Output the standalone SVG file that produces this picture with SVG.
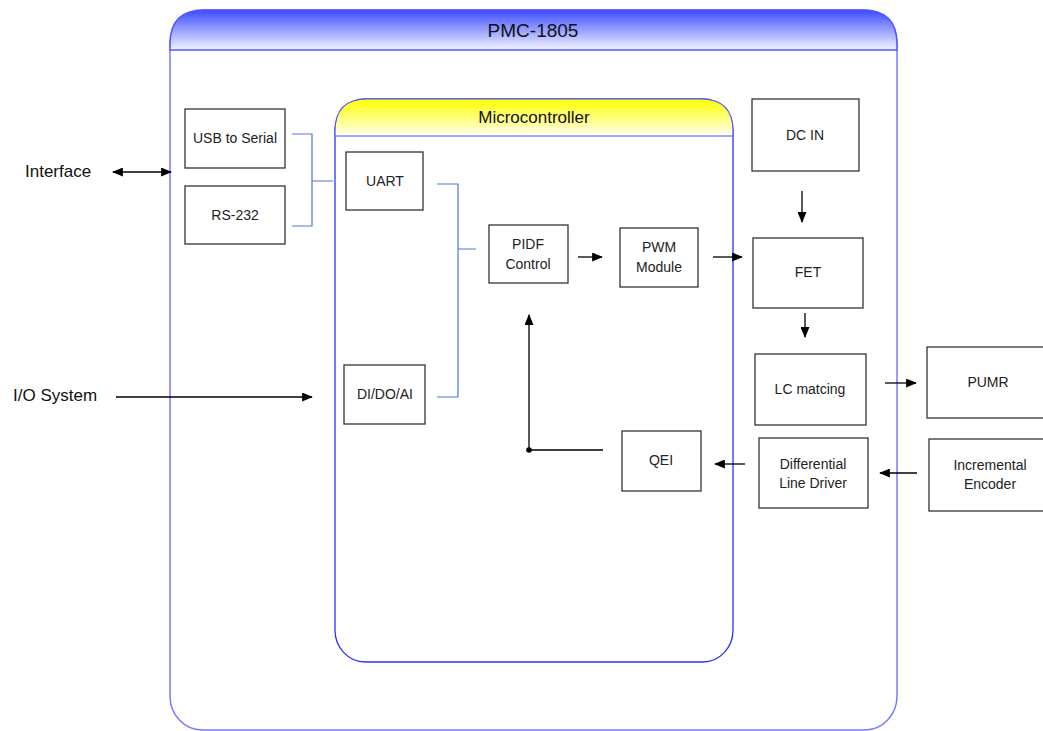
<svg xmlns="http://www.w3.org/2000/svg" width="1043" height="731" viewBox="0 0 1043 731">
<style>
.box{fill:#fff;stroke:#333;stroke-width:1.3}
.t{font-family:"Liberation Sans",Arial,sans-serif;font-size:14px;fill:#222;text-anchor:middle}
.lbl{font-family:"Liberation Sans",Arial,sans-serif;font-size:17px;fill:#111}
.ar{stroke:#000;stroke-width:1.3;fill:none}
.bl{stroke:#4a78d0;stroke-width:1.2;fill:none}
</style>
<defs>
<linearGradient id="gBlue" x1="0" y1="0" x2="0" y2="1">
<stop offset="0" stop-color="#3c4cff"/>
<stop offset="1" stop-color="#f2f4ff"/>
</linearGradient>
<linearGradient id="gYel" x1="0" y1="0" x2="0" y2="1">
<stop offset="0" stop-color="#ffff00"/>
<stop offset="1" stop-color="#fffff2"/>
</linearGradient>
<marker id="ah" viewBox="0 0 12 10" refX="11" refY="5" markerWidth="12" markerHeight="9" markerUnits="userSpaceOnUse" orient="auto-start-reverse">
<path d="M0,0 L12,5 L0,10 z" fill="#000"/>
</marker>
</defs>

<g id="pmc">
<rect x="170" y="10" width="727" height="720" rx="32" ry="34" fill="#fff" stroke="#7878ff" stroke-width="1.5"/>
<path d="M170,50 L170,44 Q170,10 204,10 L863,10 Q897,10 897,44 L897,50 Z" fill="url(#gBlue)" stroke="#5555ff" stroke-width="1.5"/>
<text x="533" y="37" class="lbl" style="font-size:19px" text-anchor="middle">PMC-1805</text>
</g>

<g id="microcontroller">
<rect x="335" y="99" width="398" height="563" rx="30" ry="32" fill="#fff" stroke="#3030ff" stroke-width="1.3"/>
<path d="M335,136 L335,131 Q335,99 367,99 L701,99 Q733,99 733,131 L733,136 Z" fill="url(#gYel)" stroke="#5555ff" stroke-width="1.2"/>
<text x="534" y="123" class="lbl" text-anchor="middle">Microcontroller</text>
</g>

<g id="usb"><rect class="box" x="185" y="109" width="100" height="59"/><text class="t" x="235" y="143">USB to Serial</text></g>
<g id="rs232"><rect class="box" x="185" y="186" width="100" height="58"/><text class="t" x="235" y="220">RS-232</text></g>
<g id="uart"><rect class="box" x="346" y="152" width="77" height="58"/><text class="t" x="385" y="186">UART</text></g>
<g id="dido"><rect class="box" x="344" y="365" width="81" height="59"/><text class="t" x="385" y="399">DI/DO/AI</text></g>
<g id="pidf"><rect class="box" x="489" y="225" width="79" height="58"/><text class="t" x="528" y="249">PIDF</text><text class="t" x="528" y="269">Control</text></g>
<g id="pwm"><rect class="box" x="620" y="228" width="78" height="59"/><text class="t" x="659" y="252">PWM</text><text class="t" x="659" y="272">Module</text></g>
<g id="dcin"><rect class="box" x="752" y="99" width="107" height="72"/><text class="t" x="805" y="140">DC IN</text></g>
<g id="fet"><rect class="box" x="753" y="238" width="110" height="70"/><text class="t" x="808" y="277">FET</text></g>
<g id="lc"><rect class="box" x="755" y="354" width="111" height="71"/><text class="t" x="810" y="394">LC matcing</text></g>
<g id="pumr"><rect class="box" x="927" y="347" width="120" height="71"/><text class="t" x="988" y="387">PUMR</text></g>
<g id="qei"><rect class="box" x="622" y="431" width="79" height="60"/><text class="t" x="661" y="465">QEI</text></g>
<g id="diff"><rect class="box" x="759" y="438" width="109" height="70"/><text class="t" x="813" y="469">Differential</text><text class="t" x="813" y="488">Line Driver</text></g>
<g id="enc"><rect class="box" x="929" y="439" width="120" height="72"/><text class="t" x="990" y="470">Incremental</text><text class="t" x="990" y="489">Encoder</text></g>
<g id="interface"><text class="lbl" x="25" y="177">Interface</text></g>
<g id="iosystem"><text class="lbl" x="13" y="401">I/O System</text></g>

<g id="connectors">
<path class="bl" d="M292,134 H312 V226 H292 M312,181 H333"/>
<path class="bl" d="M437,184 H458 V397 H437 M458,249 H476"/>
<line class="ar" x1="113" y1="172" x2="171" y2="172" marker-start="url(#ah)" marker-end="url(#ah)"/>
<line class="ar" x1="116" y1="397" x2="312" y2="397" marker-end="url(#ah)"/>
<line class="ar" x1="578" y1="257" x2="602" y2="257" marker-end="url(#ah)"/>
<line class="ar" x1="713" y1="257" x2="742" y2="257" marker-end="url(#ah)"/>
<line class="ar" x1="802" y1="191" x2="802" y2="222" marker-end="url(#ah)"/>
<line class="ar" x1="805" y1="313" x2="805" y2="337" marker-end="url(#ah)"/>
<line class="ar" x1="885" y1="383" x2="916" y2="383" marker-end="url(#ah)"/>
<line class="ar" x1="917" y1="473" x2="880" y2="473" marker-end="url(#ah)"/>
<line class="ar" x1="745" y1="464" x2="715" y2="464" marker-end="url(#ah)"/>
<path class="ar" d="M603,450 H529 V315" marker-end="url(#ah)"/>
<circle cx="529" cy="450" r="2.8" fill="#000"/>
</g>
</svg>
